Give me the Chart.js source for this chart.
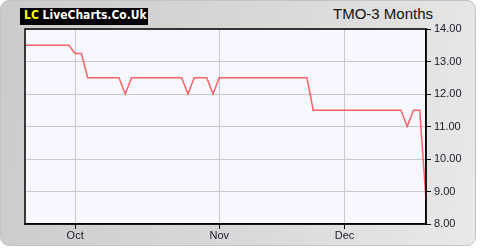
<!DOCTYPE html>
<html>
<head>
<meta charset="utf-8">
<script src="https://cdn.jsdelivr.net/npm/chart.js@4"></script>
<style>
  html, body { margin: 0; padding: 0; background: #fff; }
  #wrap { position: relative; width: 480px; height: 250px; overflow: hidden; }
  #panel {
    position: absolute; left: 0; top: 0; width: 474px; height: 244px;
    border: 1px solid #c4c4c4; border-radius: 9px;
    background: linear-gradient(100deg, #cbcbcb 0%, #d9d9d9 55%, #e9e9e9 100%);
  }
  #logo {
    position: absolute; left: 20px; top: 8px; width: 128px; height: 17px;
    background: #000; color: #fff; line-height: 17px;
    font: bold 12px "DejaVu Sans Condensed", "DejaVu Sans", sans-serif;
    font-stretch: condensed; padding-left: 4px; box-sizing: border-box; white-space: nowrap;
  }
  #logo span { color: #ffff00; }
  #title {
    position: absolute; right: 47px; top: 5px;
    font: 15px "Liberation Sans", Arial, sans-serif; color: #111;
  }
  canvas { position: absolute; left: 0; top: 0; }
</style>
</head>
<body>
<div id="wrap">
  <div id="panel"></div>
  <div id="logo"><span>LC</span> LiveCharts.Co.Uk</div>
  <div id="title">TMO-3 Months</div>
  <canvas id="priceChart" width="480" height="250"></canvas>
</div>
<script>
// trading days shown on the chart
const dates = [
  "2019-09-19", "2019-09-20", "2019-09-23", "2019-09-24", "2019-09-25", "2019-09-26", "2019-09-27", "2019-09-30",
  "2019-10-01", "2019-10-02", "2019-10-03", "2019-10-04", "2019-10-07", "2019-10-08", "2019-10-09", "2019-10-10",
  "2019-10-11", "2019-10-14", "2019-10-15", "2019-10-16", "2019-10-17", "2019-10-18", "2019-10-21", "2019-10-22",
  "2019-10-23", "2019-10-24", "2019-10-25", "2019-10-28", "2019-10-29", "2019-10-30", "2019-10-31",
  "2019-11-01", "2019-11-04", "2019-11-05", "2019-11-06", "2019-11-07", "2019-11-08", "2019-11-11", "2019-11-12",
  "2019-11-13", "2019-11-14", "2019-11-15", "2019-11-18", "2019-11-19", "2019-11-20", "2019-11-21", "2019-11-22",
  "2019-11-25", "2019-11-26", "2019-11-27", "2019-11-29",
  "2019-12-02", "2019-12-03", "2019-12-04", "2019-12-05", "2019-12-06", "2019-12-09", "2019-12-10", "2019-12-11",
  "2019-12-12", "2019-12-13", "2019-12-16", "2019-12-17", "2019-12-18", "2019-12-19"
];

// closing price
const prices = [
  13.5, 13.5, 13.5, 13.5, 13.5, 13.5, 13.5, 13.5,
  13.25, 13.25, 12.5, 12.5, 12.5, 12.5, 12.5, 12.5,
  12.0, 12.5, 12.5, 12.5, 12.5, 12.5, 12.5, 12.5,
  12.5, 12.5, 12.0, 12.5, 12.5, 12.5, 12.0,
  12.5, 12.5, 12.5, 12.5, 12.5, 12.5, 12.5, 12.5,
  12.5, 12.5, 12.5, 12.5, 12.5, 12.5, 12.5, 11.5,
  11.5, 11.5, 11.5, 11.5,
  11.5, 11.5, 11.5, 11.5, 11.5, 11.5, 11.5, 11.5,
  11.5, 11.5, 11.0, 11.5, 11.5, 8.75
];

const monthNames = ["Jan", "Feb", "Mar", "Apr", "May", "Jun", "Jul", "Aug", "Sep", "Oct", "Nov", "Dec"];
const yMin = 8;
const yMax = 14;

// label only the first trading day of each month
const monthLabel = (i) => {
  if (i === 0) return null;
  const m = dates[i].slice(5, 7);
  if (m === dates[i - 1].slice(5, 7)) return null;
  return monthNames[parseInt(m, 10) - 1];
};

const plotFrame = {
  id: "plotFrame",
  beforeDraw(chart) {
    const { ctx, chartArea: a } = chart;
    ctx.save();
    ctx.fillStyle = "#f7f8ff";
    ctx.fillRect(a.left, a.top, a.right - a.left, a.bottom - a.top);
    ctx.restore();
  },
  afterDraw(chart) {
    const { ctx, chartArea: a } = chart;
    ctx.save();
    ctx.strokeStyle = "#000";
    ctx.lineWidth = 1.5;
    ctx.strokeRect(a.left, a.top, a.right - a.left, a.bottom - a.top);
    ctx.restore();
  }
};

Chart.defaults.font.family = '"Liberation Sans", Arial, sans-serif';
Chart.defaults.font.size = 11;
Chart.defaults.color = "#1a1a2a";

const ctx = document.getElementById("priceChart").getContext("2d");
new Chart(ctx, {
  type: "line",
  data: {
    labels: dates,
    datasets: [{
      data: prices,
      borderColor: "rgba(255, 70, 70, 0.85)",
      borderWidth: 1.5,
      pointRadius: 0,
      tension: 0,
      fill: false
    }]
  },
  options: {
    responsive: false,
    animation: false,
    events: [],
    layout: { padding: { left: 25, top: 29, right: 0, bottom: 0 } },
    plugins: { legend: { display: false }, tooltip: { enabled: false } },
    scales: {
      x: {
        type: "category",
        offset: false,
        grid: { color: "#c9c9c9", tickColor: "#000", tickLength: 5, lineWidth: 1 },
        border: { color: "#000", width: 1.5 },
        ticks: {
          autoSkip: false, maxRotation: 0, padding: 0,
          callback: (v, i) => monthLabel(i)
        },
        afterFit: (s) => { s.height = 26; }
      },
      y: {
        position: "right",
        min: yMin,
        max: yMax,
        grid: { color: "#c9c9c9", tickColor: "#000", tickLength: 5 },
        border: { color: "#000", width: 1.5 },
        ticks: { stepSize: 1, padding: 3, callback: (v) => v.toFixed(2) },
        afterFit: (s) => { s.width = 54; }
      }
    }
  },
  plugins: [plotFrame]
});
</script>
</body>
</html>
